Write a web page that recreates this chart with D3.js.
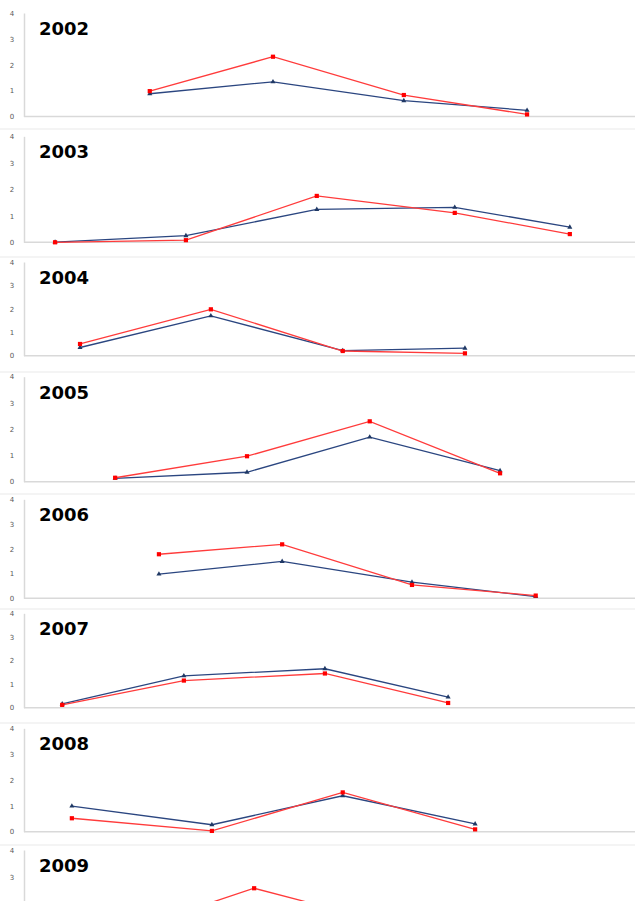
<!DOCTYPE html>
<html>
<head>
<meta charset="utf-8">
<script src="https://cdn.jsdelivr.net/npm/d3@7/dist/d3.min.js"></script>
<style>
  html, body { margin: 0; padding: 0; background: #ffffff; }
  svg { display: block; }
</style>
</head>
<body>
<script>
// ---- data: one small panel per year, sampling time in months ----
const years = ["2002", "2003", "2004", "2005", "2006", "2007", "2008", "2009"];

const sampleMonths = [
  [2.47, 4.89, 7.46, 9.88],
  [0.61, 3.18, 5.75, 8.46, 10.72],
  [1.10, 3.67, 6.26, 8.66],
  [1.79, 4.38, 6.79, 9.35],
  [2.65, 5.07, 7.62, 10.05],
  [0.75, 3.14, 5.91, 8.33],
  [0.94, 3.69, 6.26, 8.86],
  [1.96, 4.52, 7.07, 9.54]
];

const redSeries = [
  [0.98, 2.31, 0.83, 0.08],
  [0.00, 0.08, 1.75, 1.11, 0.31],
  [0.50, 1.98, 0.20, 0.10],
  [0.15, 0.97, 2.30, 0.32],
  [1.78, 2.18, 0.54, 0.11],
  [0.12, 1.15, 1.45, 0.20],
  [0.52, 0.03, 1.52, 0.09],
  [0.95, 2.57, 1.30, 0.30]
];

const navySeries = [
  [0.88, 1.34, 0.61, 0.24],
  [0.01, 0.25, 1.24, 1.32, 0.57],
  [0.35, 1.70, 0.22, 0.32],
  [0.13, 0.36, 1.70, 0.42],
  [0.98, 1.49, 0.65, 0.07],
  [0.16, 1.35, 1.65, 0.45],
  [0.99, 0.27, 1.39, 0.30],
  [0.70, 1.50, 1.00, 0.30]
];

const yTickValues = [0, 1, 2, 3, 4];

// ---- layout ----
const W = 635, H = 901;
const axisX = 24;
const panelTop = [13, 136.3, 262, 376.7, 499.3, 613.3, 728.3, 850];     // pixel row of value 4
const panelBottom = [116.5, 242.3, 355.7, 481.7, 598.3, 707.7, 831.7, 957]; // pixel row of value 0
const panelRule = [null, 129, 257, 372, 494, 609, 723, 845];

const RED_LINE = "#ff3b3b", RED_MARK = "#ff0000";
const NAVY_LINE = "#2b4680", NAVY_MARK = "#1f3864";

const svg = d3.select("body").append("svg")
  .attr("width", W).attr("height", H)
  .attr("viewBox", `0 0 ${W} ${H}`);

svg.append("rect").attr("width", W).attr("height", H).attr("fill", "#ffffff");

const x = d3.scaleLinear().domain([0, 12]).range([axisX, W]);

years.forEach((year, i) => {
  const g = svg.append("g");
  const y = d3.scaleLinear().domain([0, 4]).range([panelBottom[i], panelTop[i]]);

  if (panelRule[i] !== null) {
    g.append("line")
      .attr("x1", 0).attr("x2", W)
      .attr("y1", panelRule[i]).attr("y2", panelRule[i])
      .attr("stroke", "#f0f0f0").attr("stroke-width", 1.5);
  }

  // value axis: light rule with small grey labels (only labels that fit on the page)
  const visibleTicks = yTickValues.filter(v => y(v) < H - 4);
  const yAxis = d3.axisLeft(y).tickValues(visibleTicks).tickSize(0).tickPadding(10)
    .tickFormat(d3.format("d"));
  const ax = g.append("g").attr("transform", `translate(${axisX},0)`).call(yAxis);
  ax.select(".domain").attr("stroke", "#d9d9d9").attr("stroke-width", 1.5);
  ax.selectAll("text")
    .attr("font-family", "DejaVu Sans, sans-serif")
    .attr("font-size", 7)
    .attr("fill", "#595959")
    .attr("text-anchor", "middle")
    .attr("x", -12);

  // baseline
  g.append("line")
    .attr("x1", axisX).attr("x2", W)
    .attr("y1", y(0)).attr("y2", y(0))
    .attr("stroke", "#d9d9d9").attr("stroke-width", 1.5);

  // year heading
  g.append("text")
    .attr("x", 39).attr("y", y(4) + 22)
    .attr("font-family", "DejaVu Sans, sans-serif")
    .attr("font-weight", "bold")
    .attr("font-size", 18)
    .attr("fill", "#000000")
    .text(year);

  const line = d3.line().x(d => x(d[0])).y(d => y(d[1]));
  const navyPts = sampleMonths[i].map((m, k) => [m, navySeries[i][k]]);
  const redPts = sampleMonths[i].map((m, k) => [m, redSeries[i][k]]);

  g.append("path").datum(navyPts)
    .attr("d", line).attr("fill", "none")
    .attr("stroke", NAVY_LINE).attr("stroke-width", 1.3);
  g.append("path").datum(redPts)
    .attr("d", line).attr("fill", "none")
    .attr("stroke", RED_LINE).attr("stroke-width", 1.3);

  g.selectAll(".tri").data(navyPts).join("path")
    .attr("d", d3.symbol(d3.symbolTriangle, 11)())
    .attr("transform", d => `translate(${x(d[0])},${y(d[1])})`)
    .attr("fill", NAVY_MARK);
  g.selectAll(".sq").data(redPts).join("rect")
    .attr("x", d => x(d[0]) - 2.1).attr("y", d => y(d[1]) - 2.1)
    .attr("width", 4.2).attr("height", 4.2)
    .attr("fill", RED_MARK);
});
</script>
</body>
</html>
